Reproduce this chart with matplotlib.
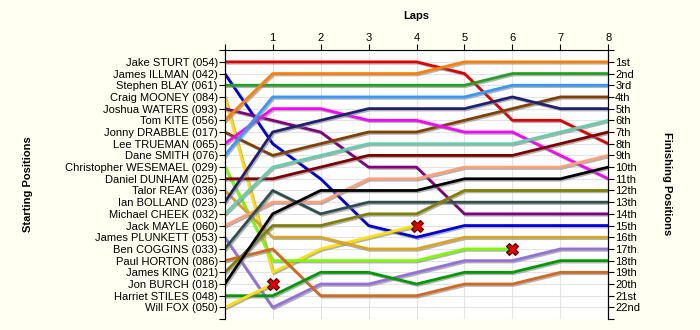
import matplotlib
matplotlib.use("Agg")
import matplotlib.pyplot as plt
import matplotlib.patheffects as pe

laps = [0, 1, 2, 3, 4, 5, 6, 7, 8]

drivers = ["Jake STURT (054)", "James ILLMAN (042)", "Stephen BLAY (061)",
           "Craig MOONEY (084)", "Joshua WATERS (093)", "Tom KITE (056)",
           "Jonny DRABBLE (017)", "Lee TRUEMAN (065)", "Dane SMITH (076)",
           "Christopher WESEMAEL (029)", "Daniel DUNHAM (025)", "Talor REAY (036)",
           "Ian BOLLAND (023)", "Michael CHEEK (032)", "Jack MAYLE (060)",
           "James PLUNKETT (053)", "Ben COGGINS (033)", "Paul HORTON (086)",
           "James KING (021)", "Jon BURCH (018)", "Harriet STILES (048)",
           "Will FOX (050)"]

finish_labels = ["1st", "2nd", "3rd", "4th", "5th", "6th", "7th", "8th", "9th",
                 "10th", "11th", "12th", "13th", "14th", "15th", "16th", "17th",
                 "18th", "19th", "20th", "21st", "22nd"]

# positions per lap (lap 0 = grid), shorter lists = retired
positions = {
    "Jake STURT (054)":           [1, 1, 1, 1, 1, 2, 6, 6, 8],
    "James ILLMAN (042)":         [2, 8, 11, 15, 16, 15, 15, 15, 15],
    "Stephen BLAY (061)":         [3, 3, 3, 3, 3, 3, 2, 2, 2],
    "Craig MOONEY (084)":         [4, 19, 17, 16, 15],
    "Joshua WATERS (093)":        [5, 6, 7, 10, 10, 14, 14, 14, 14],
    "Tom KITE (056)":             [6, 2, 2, 2, 2, 1, 1, 1, 1],
    "Jonny DRABBLE (017)":        [7, 9, 8, 7, 7, 6, 5, 4, 4],
    "Lee TRUEMAN (065)":          [8, 5, 5, 6, 6, 7, 7, 9, 11],
    "Dane SMITH (076)":           [9, 4, 4, 4, 4, 4, 3, 3, 3],
    "Christopher WESEMAEL (029)": [10, 18, 18, 18, 18, 17, 17],
    "Daniel DUNHAM (025)":        [11, 11, 10, 9, 9, 9, 9, 8, 7],
    "Talor REAY (036)":           [12, 16, 16, 17, 17, 16, 16, 16, 16],
    "Ian BOLLAND (023)":          [13, 7, 6, 5, 5, 5, 4, 5, 5],
    "Michael CHEEK (032)":        [14, 10, 9, 8, 8, 8, 8, 7, 6],
    "Jack MAYLE (060)":           [15, 13, 13, 11, 11, 10, 10, 10, 9],
    "James PLUNKETT (053)":       [16, 22, 20, 20, 19, 18, 18, 17, 17],
    "Ben COGGINS (033)":          [17, 12, 14, 13, 13, 13, 13, 13, 13],
    "Paul HORTON (086)":          [18, 17, 21, 21, 21, 20, 20, 19, 19],
    "James KING (021)":           [19, 15, 15, 14, 14, 12, 12, 12, 12],
    "Jon BURCH (018)":            [20, 14, 12, 12, 12, 11, 11, 11, 10],
    "Harriet STILES (048)":       [21, 21, 19, 19, 20, 19, 19, 18, 18],
    "Will FOX (050)":             [22, 20],
}

retired = ["Craig MOONEY (084)", "Christopher WESEMAEL (029)", "Will FOX (050)"]

colors = ["#E00000", "#0000DD", "#22A022", "#FFE000", "#800080", "#FF8000",
          "#804000", "#FF00FF", "#3399FF", "#7CFC00", "#800000", "#DAA520",
          "#202070", "#66CDAA", "#FFA07A", "#9370DB", "#2F4F4F", "#D2691E",
          "#808000", "#000000", "#009900", "#FFE000"]

plt.rcParams['font.family'] = ['Liberation Sans', 'DejaVu Sans']

fig = plt.figure(figsize=(7, 3.3), dpi=100, facecolor="#FFFFF2")
ax = fig.add_axes([0.321, 0.033, 0.548, 0.815])
ax.set_facecolor("white")

shadow = [pe.SimpleLineShadow(offset=(1, -1), shadow_color="gray", alpha=0.6),
          pe.Normal()]

for name, col in zip(drivers, colors):
    pos = positions[name]
    ax.plot(laps[:len(pos)], pos, color=col, lw=2, path_effects=shadow,
            solid_joinstyle="round", zorder=3)
    if name in retired:
        ax.plot(laps[len(pos) - 1], pos[-1], marker="X", ms=9, color="#E00000",
                mec="#500000", mew=0.8, zorder=5)

ax.set_xlim(0, 8)
ax.set_ylim(23, 0)

ax.set_xticks(range(0, 9))
ax.set_xticklabels([""] + [str(i) for i in range(1, 9)], fontsize=8)
ax.xaxis.tick_top()
ax.set_xlabel("Laps", fontsize=8, fontweight="bold", labelpad=10)
ax.xaxis.set_label_position("top")

ax.set_yticks(range(0, 24))
ax.set_yticklabels([""] + drivers + [""], fontsize=8)

ax2 = ax.twinx()
ax2.set_ylim(23, 0)
ax2.set_yticks(range(0, 24))
ax2.set_yticklabels([""] + finish_labels + [""], fontsize=8)

fig.text(28 / 700, 1 - 184 / 330, "Starting Positions", fontsize=8,
         fontweight="bold", rotation=90, ha="center", va="center")
fig.text(667 / 700, 1 - 184 / 330, "Finishing Positions", fontsize=8,
         fontweight="bold", rotation=-90, ha="center", va="center")

ax.grid(True, color="#E4E4E4", lw=0.8)
ax.set_axisbelow(True)
for a in (ax, ax2):
    a.spines["bottom"].set_visible(False)
    a.tick_params(length=4, width=0.8, pad=1)
ax.spines["top"].set_visible(True)
ax2.spines["top"].set_visible(False)
ax.tick_params(axis="x", bottom=False)

fig.savefig("out.png", dpi=100, facecolor=fig.get_facecolor())
